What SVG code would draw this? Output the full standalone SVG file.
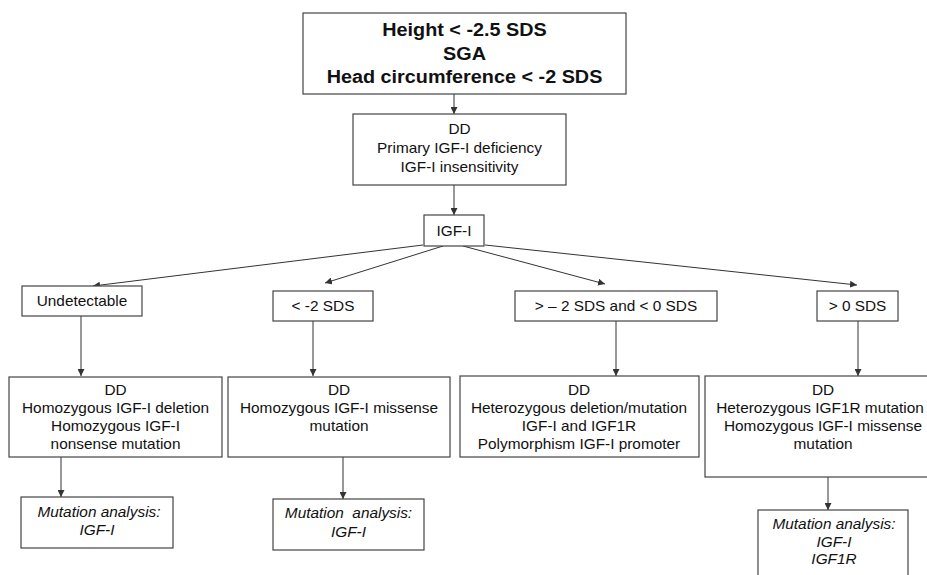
<svg xmlns="http://www.w3.org/2000/svg" width="927" height="575" viewBox="0 0 927 575">
<defs>
<marker id="ah" viewBox="0 0 10 10" refX="10" refY="5" markerWidth="7" markerHeight="7" markerUnits="userSpaceOnUse" orient="auto">
<path d="M0,0 L10,5 L0,10 z" fill="#333"/>
</marker>
<style>
.box{fill:#fff;stroke:#444;stroke-width:1.2}
.t{font-family:"Liberation Sans",Arial,sans-serif;font-size:14.5px;fill:#111;text-anchor:middle}
.b{font-weight:bold;font-size:18.7px}
.i{font-style:italic}
.c{stroke:#333;stroke-width:1;fill:none;marker-end:url(#ah)}
</style>
</defs>
<rect width="927" height="575" fill="#fff"/>
<g id="connectors">
<line class="c" x1="454" y1="94" x2="454" y2="114"/>
<line class="c" x1="454" y1="185" x2="454" y2="215"/>
<line class="c" x1="423" y1="245" x2="93" y2="286"/>
<line class="c" x1="443" y1="246" x2="325" y2="283"/>
<line class="c" x1="463" y1="246" x2="605" y2="284"/>
<line class="c" x1="485" y1="245" x2="857" y2="285"/>
<line class="c" x1="81" y1="316" x2="81" y2="376"/>
<line class="c" x1="313" y1="321" x2="313" y2="376"/>
<line class="c" x1="616" y1="321" x2="616" y2="376"/>
<line class="c" x1="858" y1="321" x2="858" y2="376"/>
<line class="c" x1="61" y1="457" x2="61" y2="497"/>
<line class="c" x1="343" y1="457" x2="343" y2="499"/>
<line class="c" x1="828" y1="477" x2="828" y2="510"/>
</g>
<g id="n_top">
<rect class="box" x="303" y="13" width="323" height="81"/>
<text class="t b" transform="matrix(1.06 0 0 1 464.5 0)" x="0" y="36">Height &lt; -2.5 SDS</text>
<text class="t b" transform="matrix(1.06 0 0 1 464.5 0)" x="0" y="60">SGA</text>
<text class="t b" transform="matrix(1.06 0 0 1 464.5 0)" x="0" y="83">Head circumference &lt; -2 SDS</text>
</g>
<g id="n_dd0">
<rect class="box" x="353" y="114" width="213" height="71"/>
<text class="t" transform="matrix(1.06 0 0 1 459.5 0)" x="0" y="134">DD</text>
<text class="t" transform="matrix(1.06 0 0 1 459.5 0)" x="0" y="153">Primary IGF-I deficiency</text>
<text class="t" transform="matrix(1.06 0 0 1 459.5 0)" x="0" y="172">IGF-I insensitivity</text>
</g>
<g id="n_igf">
<rect class="box" x="424" y="215" width="60" height="31"/>
<text class="t" transform="matrix(1.06 0 0 1 454 0)" x="0" y="236">IGF-I</text>
</g>
<g id="n_undet">
<rect class="box" x="22" y="286" width="120" height="30"/>
<text class="t" transform="matrix(1.06 0 0 1 82 0)" x="0" y="306">Undetectable</text>
</g>
<g id="n_lt2">
<rect class="box" x="273" y="291" width="100" height="30"/>
<text class="t" transform="matrix(1.06 0 0 1 323 0)" x="0" y="311">&lt; -2 SDS</text>
</g>
<g id="n_mid">
<rect class="box" x="515" y="291" width="202" height="30"/>
<text class="t" transform="matrix(1.06 0 0 1 616 0)" x="0" y="311">&gt; – 2 SDS and &lt; 0 SDS</text>
</g>
<g id="n_gt0">
<rect class="box" x="817" y="291" width="81" height="30"/>
<text class="t" transform="matrix(1.06 0 0 1 857.5 0)" x="0" y="311">&gt; 0 SDS</text>
</g>
<g id="n_dd1">
<rect class="box" x="9" y="377" width="213" height="80"/>
<text class="t" transform="matrix(1.06 0 0 1 115.5 0)" x="0" y="395">DD</text>
<text class="t" transform="matrix(1.06 0 0 1 115.5 0)" x="0" y="413">Homozygous IGF-I deletion</text>
<text class="t" transform="matrix(1.06 0 0 1 115.5 0)" x="0" y="431">Homozygous IGF-I</text>
<text class="t" transform="matrix(1.06 0 0 1 115.5 0)" x="0" y="449">nonsense mutation</text>
</g>
<g id="n_dd2">
<rect class="box" x="228" y="377" width="222" height="80"/>
<text class="t" transform="matrix(1.06 0 0 1 339 0)" x="0" y="395">DD</text>
<text class="t" transform="matrix(1.06 0 0 1 339 0)" x="0" y="413">Homozygous IGF-I missense</text>
<text class="t" transform="matrix(1.06 0 0 1 339 0)" x="0" y="431">mutation</text>
</g>
<g id="n_dd3">
<rect class="box" x="460" y="376" width="239" height="81"/>
<text class="t" transform="matrix(1.06 0 0 1 579 0)" x="0" y="395">DD</text>
<text class="t" transform="matrix(1.06 0 0 1 579 0)" x="0" y="413">Heterozygous deletion/mutation</text>
<text class="t" transform="matrix(1.06 0 0 1 579 0)" x="0" y="431">IGF-I and IGF1R</text>
<text class="t" transform="matrix(1.06 0 0 1 579 0)" x="0" y="449">Polymorphism IGF-I promoter</text>
</g>
<g id="n_dd4">
<rect class="box" x="705" y="376" width="240" height="101"/>
<text class="t" transform="matrix(1.06 0 0 1 823 0)" x="0" y="395">DD</text>
<text class="t" transform="matrix(1.06 0 0 1 820 0)" x="0" y="413">Heterozygous IGF1R mutation</text>
<text class="t" transform="matrix(1.06 0 0 1 823 0)" x="0" y="431">Homozygous IGF-I missense</text>
<text class="t" transform="matrix(1.06 0 0 1 823 0)" x="0" y="449">mutation</text>
</g>
<g id="n_ma1">
<rect class="box" x="21" y="497" width="152" height="51"/>
<text class="t i" transform="matrix(1.06 0 0 1 99 0)" x="0" y="517">Mutation analysis:</text>
<text class="t i" transform="matrix(1.06 0 0 1 97 0)" x="0" y="535">IGF-I</text>
</g>
<g id="n_ma2">
<rect class="box" x="273" y="499" width="151" height="51"/>
<text class="t i" transform="matrix(1.06 0 0 1 348.5 0)" x="0" y="518" xml:space="preserve">Mutation  analysis:</text>
<text class="t i" transform="matrix(1.06 0 0 1 348.5 0)" x="0" y="537">IGF-I</text>
</g>
<g id="n_ma3">
<rect class="box" x="758" y="510" width="150" height="75"/>
<text class="t i" transform="matrix(1.06 0 0 1 834 0)" x="0" y="529">Mutation analysis:</text>
<text class="t i" transform="matrix(1.06 0 0 1 834 0)" x="0" y="547">IGF-I</text>
<text class="t i" transform="matrix(1.06 0 0 1 834 0)" x="0" y="564">IGF1R</text>
</g>
</svg>
